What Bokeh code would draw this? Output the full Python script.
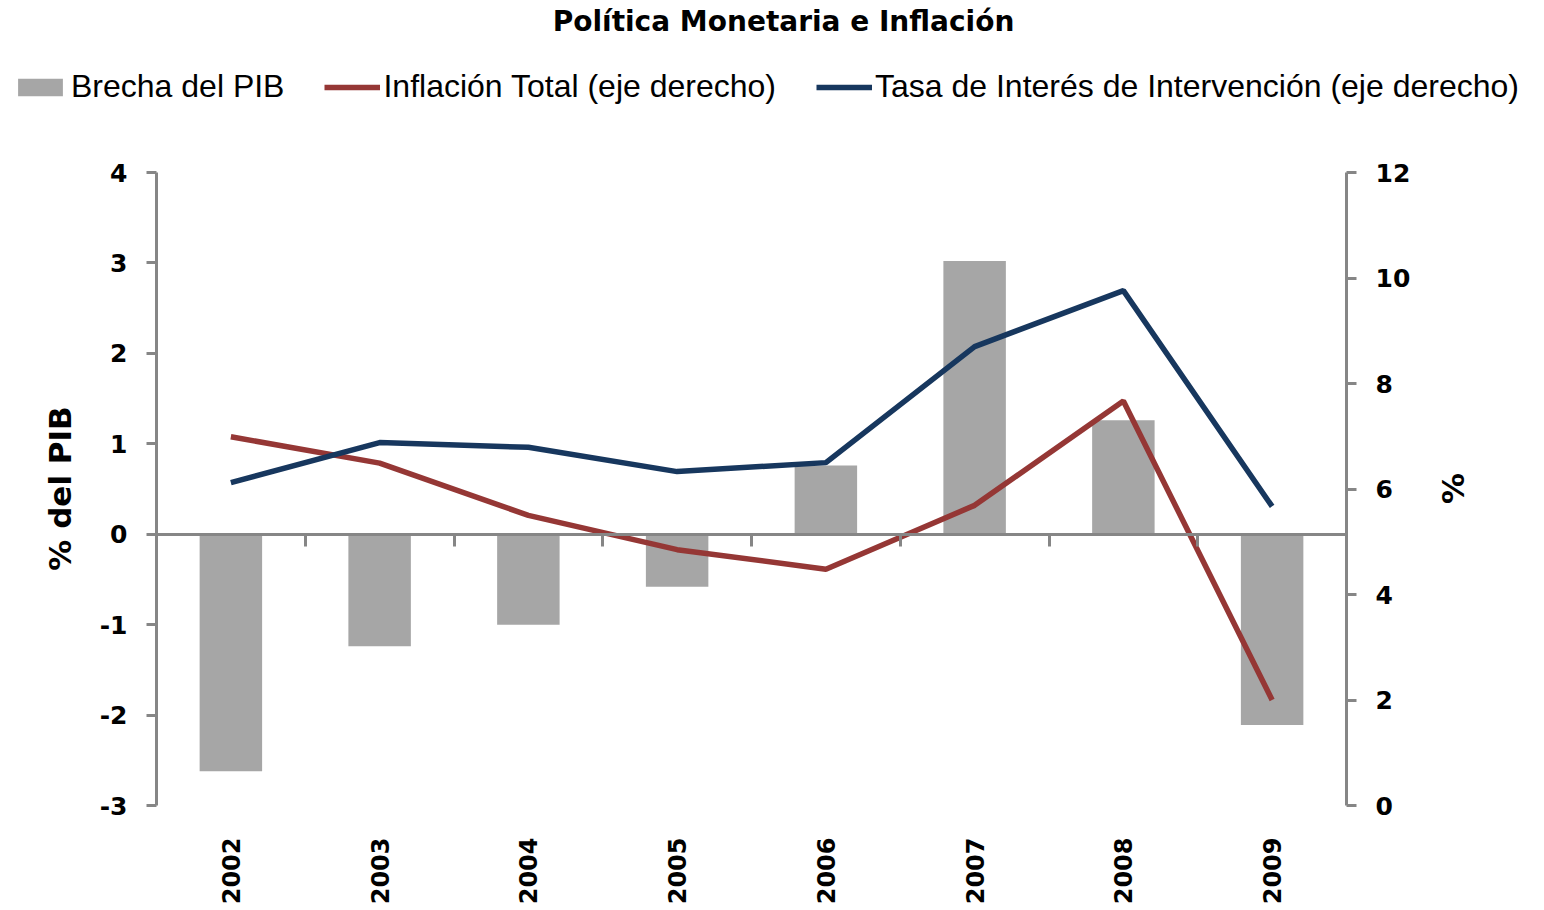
import math
from bokeh.plotting import figure
from bokeh.models import (Range1d, LinearAxis, FixedTicker, Legend, LegendItem, Label)
from bokeh.embed import file_html
from bokeh.resources import INLINE

# ---- data ----
years = ["2002", "2003", "2004", "2005", "2006", "2007", "2008", "2009"]
brecha_pib = [-2.62, -1.24, -1.00, -0.58, 0.76, 3.02, 1.26, -2.11]
inflacion_total = [6.99, 6.49, 5.50, 4.85, 4.48, 5.69, 7.67, 2.00]
tasa_interes = [6.12, 6.88, 6.79, 6.33, 6.50, 8.70, 9.76, 5.67]

left_ticks = [-3, -2, -1, 0, 1, 2, 3, 4]
right_ticks = [0, 2, 4, 6, 8, 10, 12]

title_text = "Política Monetaria e Inflación"
left_label = "% del PIB"
right_label = "%"
legend_labels = ["Brecha del PIB", "Inflación Total (eje derecho)",
                 "Tasa de Interés de Intervención (eje derecho)"]

GRAY_BAR = "#A6A6A6"
RED = "#953735"
BLUE = "#17375E"
AXIS_GRAY = "#868686"
TICK_FONT = "DejaVu Sans"
LEGEND_FONT = "Liberation Sans"

n = len(years)
xc = [i + 0.5 for i in range(n)]          # category centres
bounds = list(range(n + 1))               # category boundaries

# ---- layout (pixels) ----
W, H = 1544, 910
PL, PR, PT, PB = 156, 1346, 172, 805       # plotting box inside the canvas

ppx = (PR - PL) / n
ppy = (PB - PT) / (left_ticks[-1] - left_ticks[0])
ppr = (PB - PT) / (right_ticks[-1] - right_ticks[0])
x_range = Range1d(-PL / ppx, (W - PL) / ppx)
y_range = Range1d(left_ticks[0] - (H - PB) / ppy, left_ticks[-1] + PT / ppy)
r_range = Range1d(right_ticks[0] - (H - PB) / ppr, right_ticks[-1] + PT / ppr)

p = figure(x_range=x_range, y_range=y_range, width=W, height=H,
           output_backend="svg", toolbar_location=None,
           x_axis_location=None, y_axis_location=None,
           min_border_left=0, min_border_right=0, min_border_top=0, min_border_bottom=0)
p.outline_line_color = None
p.xgrid.grid_line_color = None
p.ygrid.grid_line_color = None
p.extra_y_ranges = {"right": r_range}

bars = p.vbar(x=xc, top=brecha_pib, width=0.42, fill_color=GRAY_BAR, line_color=None)
l_inf = p.line(x=xc, y=inflacion_total, y_range_name="right", line_color=RED, line_width=5.5)
l_tasa = p.line(x=xc, y=tasa_interes, y_range_name="right", line_color=BLUE, line_width=5.5)


def style_y(ax):
    ax.axis_line_color = AXIS_GRAY
    ax.axis_line_width = 3
    ax.major_tick_line_color = AXIS_GRAY
    ax.major_tick_line_width = 3
    ax.major_tick_in = 0
    ax.major_tick_out = 10
    ax.minor_tick_line_color = None
    ax.major_label_text_font = TICK_FONT
    ax.major_label_text_font_size = "25px"
    ax.major_label_text_font_style = "bold"
    ax.major_label_text_color = "black"
    ax.major_label_standoff = 19


# left axis
ya = LinearAxis(ticker=FixedTicker(ticks=left_ticks), fixed_location=0,
                bounds=(left_ticks[0], left_ticks[-1]))
ya.major_label_overrides = {t: str(t) for t in left_ticks}
style_y(ya)
p.add_layout(ya, "left")

# right axis
ra = LinearAxis(y_range_name="right", ticker=FixedTicker(ticks=right_ticks), fixed_location=n,
                bounds=(right_ticks[0], right_ticks[-1]))
style_y(ra)
p.add_layout(ra, "right")

# bottom category labels (at the foot of the plotting box)
xa = LinearAxis(ticker=FixedTicker(ticks=xc), fixed_location=left_ticks[0])
xa.major_label_overrides = {c: y for c, y in zip(xc, years)}
xa.axis_line_color = None
xa.major_tick_line_color = None
xa.minor_tick_line_color = None
xa.major_tick_in = 0
xa.major_tick_out = 0
xa.major_label_orientation = math.pi / 2
xa.major_label_standoff = 32
xa.major_label_text_font = TICK_FONT
xa.major_label_text_font_size = "24px"
xa.major_label_text_font_style = "bold"
xa.major_label_text_color = "black"
p.add_layout(xa, "below")

# zero line axis with ticks between categories
za = LinearAxis(ticker=FixedTicker(ticks=bounds), fixed_location=0, bounds=(0, n))
za.axis_line_color = AXIS_GRAY
za.axis_line_width = 3
za.major_tick_line_color = AXIS_GRAY
za.major_tick_line_width = 3
za.major_tick_in = 0
za.major_tick_out = 12
za.minor_tick_line_color = None
za.major_label_overrides = {b: "" for b in bounds}
za.major_label_text_font_size = "1px"
p.add_layout(za, "below")

# axis titles
p.add_layout(Label(x=59, y=H - 488, x_units="screen", y_units="screen", text=left_label,
                   angle=math.pi / 2, text_align="center", text_baseline="middle",
                   text_font=TICK_FONT, text_font_size="31px", text_font_style="bold",
                   text_color="black"))
p.add_layout(Label(x=1452, y=H - 488, x_units="screen", y_units="screen", text=right_label,
                   angle=math.pi / 2, text_align="center", text_baseline="middle",
                   text_font=TICK_FONT, text_font_size="31px", text_font_style="bold",
                   text_color="black"))

# chart title
p.add_layout(Label(x=783, y=H - 4, x_units="screen", y_units="screen", text=title_text,
                   text_align="center", text_baseline="top",
                   text_font=TICK_FONT, text_font_size="28px", text_font_style="bold",
                   text_color="black"))

legend = Legend(items=[
    LegendItem(label=legend_labels[0], renderers=[bars]),
    LegendItem(label=legend_labels[1], renderers=[l_inf]),
    LegendItem(label=legend_labels[2], renderers=[l_tasa]),
], orientation="horizontal", location=(12, H - 105))
legend.glyph_width = 56
legend.glyph_height = 22
legend.label_standoff = 3
legend.spacing = 40
legend.padding = 0
legend.margin = 0
legend.border_line_color = None
legend.background_fill_alpha = 0
legend.label_text_font = LEGEND_FONT
legend.label_text_font_size = "32px"
legend.label_text_color = "black"
p.add_layout(legend, "center")

open("out.html", "w").write(file_html(p, INLINE))
